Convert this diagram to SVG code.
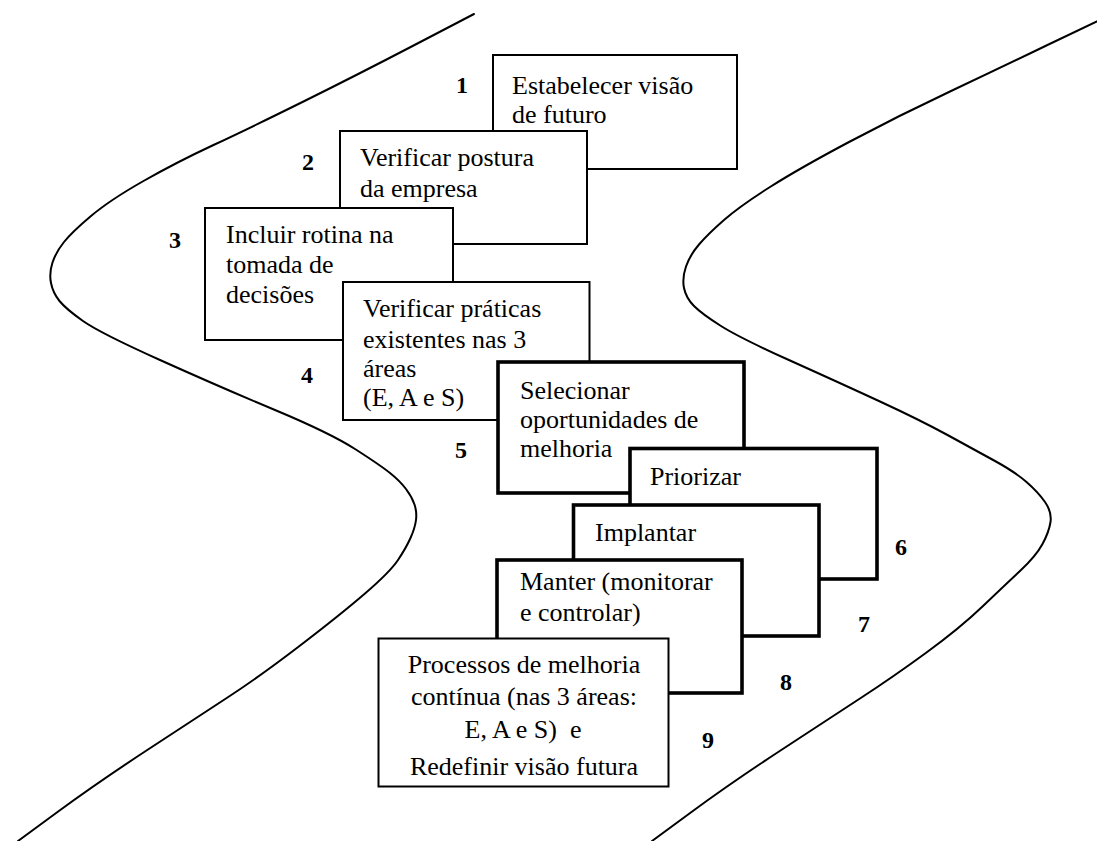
<svg xmlns="http://www.w3.org/2000/svg" width="1097" height="841" viewBox="0 0 1097 841">
  <style>
    .bank { fill: none; stroke: #000; stroke-width: 2; stroke-linejoin: round; stroke-linecap: round; }
    .box-thin { fill: #fff; stroke: #000; stroke-width: 2; }
    .box-thick { fill: #fff; stroke: #000; stroke-width: 3.6; }
    .txt { font-family: "Liberation Serif", "Times New Roman", serif; font-size: 26px; fill: #000; }
    .num { font-family: "Liberation Serif", "Times New Roman", serif; font-size: 24px; font-weight: bold; fill: #000; text-anchor: middle; }
    .mid { text-anchor: middle; }
  </style>
  <rect x="0" y="0" width="1097" height="841" fill="#fff"/>

  <!-- winding road banks -->
  <g id="banks">
    <path class="bank" d="M474,14 L415.5,44.5 Q357,75 303.5,101.5 Q250,128 213.5,145 Q177,162 143.5,181 Q110,200 91,216 Q72,232 64,242 Q56,252 52.5,262.5 Q49,273 51,283 Q53,293 59.5,301 Q66,309 83,321 Q100,333 160,360 Q220,387 275,410 Q330,433 355,449 Q380,465 390,473 Q400,481 406,489 Q412,497 414.5,504.5 Q417,512 416,520 Q415,528 410.5,538 Q406,548 398,560 Q390,572 365,593.5 Q340,615 299.5,646 Q259,677 227.5,697.5 Q196,718 146.5,750.5 Q97,783 57.5,812 L18,841"/>
    <path class="bank" d="M1100,20 L1048.5,44.5 Q1000,68 950,91.5 Q900,115 850,141.5 Q800,168 770,187 Q740,206 724,220 Q708,234 699,244.5 Q690,255 686,266.5 Q682,278 684,288 Q686,298 694,306 Q702,314 721,326 Q740,338 790,360.5 Q840,383 880,401.5 Q920,420 947.5,435 Q975,450 995,461 Q1015,472 1026.5,482 Q1038,492 1045,502 Q1052,512 1050.5,522 Q1049,532 1042.5,544 Q1036,556 1020.5,570.5 Q1005,585 982.5,606.5 Q960,628 926.5,652.5 Q893,677 861.5,697.5 Q830,718 780.5,750.5 Q731,783 691.5,812 L652,841"/>
  </g>

  <!-- steps, back to front -->
  <g id="step1">
    <rect class="box-thin" x="493" y="55" width="244" height="114"/>
    <text class="txt" x="512" y="94">Estabelecer visão</text>
    <text class="txt" x="512" y="123">de futuro</text>
    <text class="num" x="462" y="93">1</text>
  </g>
  <g id="step2">
    <rect class="box-thin" x="340" y="131" width="247" height="113"/>
    <text class="txt" x="360" y="166">Verificar postura</text>
    <text class="txt" x="360" y="197">da empresa</text>
    <text class="num" x="308" y="170">2</text>
  </g>
  <g id="step3">
    <rect class="box-thin" x="205" y="208" width="248" height="132"/>
    <text class="txt" x="226" y="243">Incluir rotina na</text>
    <text class="txt" x="226" y="273">tomada de</text>
    <text class="txt" x="226" y="303">decisões</text>
    <text class="num" x="175" y="248">3</text>
  </g>
  <g id="step4">
    <rect class="box-thin" x="343" y="282" width="246.5" height="138"/>
    <text class="txt" x="363" y="317">Verificar práticas</text>
    <text class="txt" x="363" y="348">existentes nas 3</text>
    <text class="txt" x="363" y="377">áreas</text>
    <text class="txt" x="363" y="406">(E, A e S)</text>
    <text class="num" x="307" y="383">4</text>
  </g>
  <g id="step5">
    <rect class="box-thick" x="498" y="362" width="246" height="131"/>
    <text class="txt" x="520" y="399">Selecionar</text>
    <text class="txt" x="520" y="428">oportunidades de</text>
    <text class="txt" x="520" y="457">melhoria</text>
    <text class="num" x="461" y="458">5</text>
  </g>
  <g id="step6">
    <rect class="box-thick" x="630" y="448.5" width="247" height="130.5"/>
    <text class="txt" x="650" y="485">Priorizar</text>
    <text class="num" x="901" y="555">6</text>
  </g>
  <g id="step7">
    <rect class="box-thick" x="573.5" y="505" width="245.5" height="131"/>
    <text class="txt" x="595" y="541">Implantar</text>
    <text class="num" x="864" y="632">7</text>
  </g>
  <g id="step8">
    <rect class="box-thick" x="497" y="560" width="245" height="133"/>
    <text class="txt" x="520" y="590">Manter (monitorar</text>
    <text class="txt" x="520" y="621">e controlar)</text>
    <text class="num" x="786" y="690">8</text>
  </g>
  <g id="step9">
    <rect class="box-thin" x="378.5" y="638.5" width="290" height="148"/>
    <text class="txt mid" x="524" y="673">Processos de melhoria</text>
    <text class="txt mid" x="524" y="705">contínua (nas 3 áreas:</text>
    <text class="txt mid" x="523" y="738" xml:space="preserve">E, A e S)  e</text>
    <text class="txt mid" x="524" y="775">Redefinir visão futura</text>
    <text class="num" x="708" y="748">9</text>
  </g>
</svg>
